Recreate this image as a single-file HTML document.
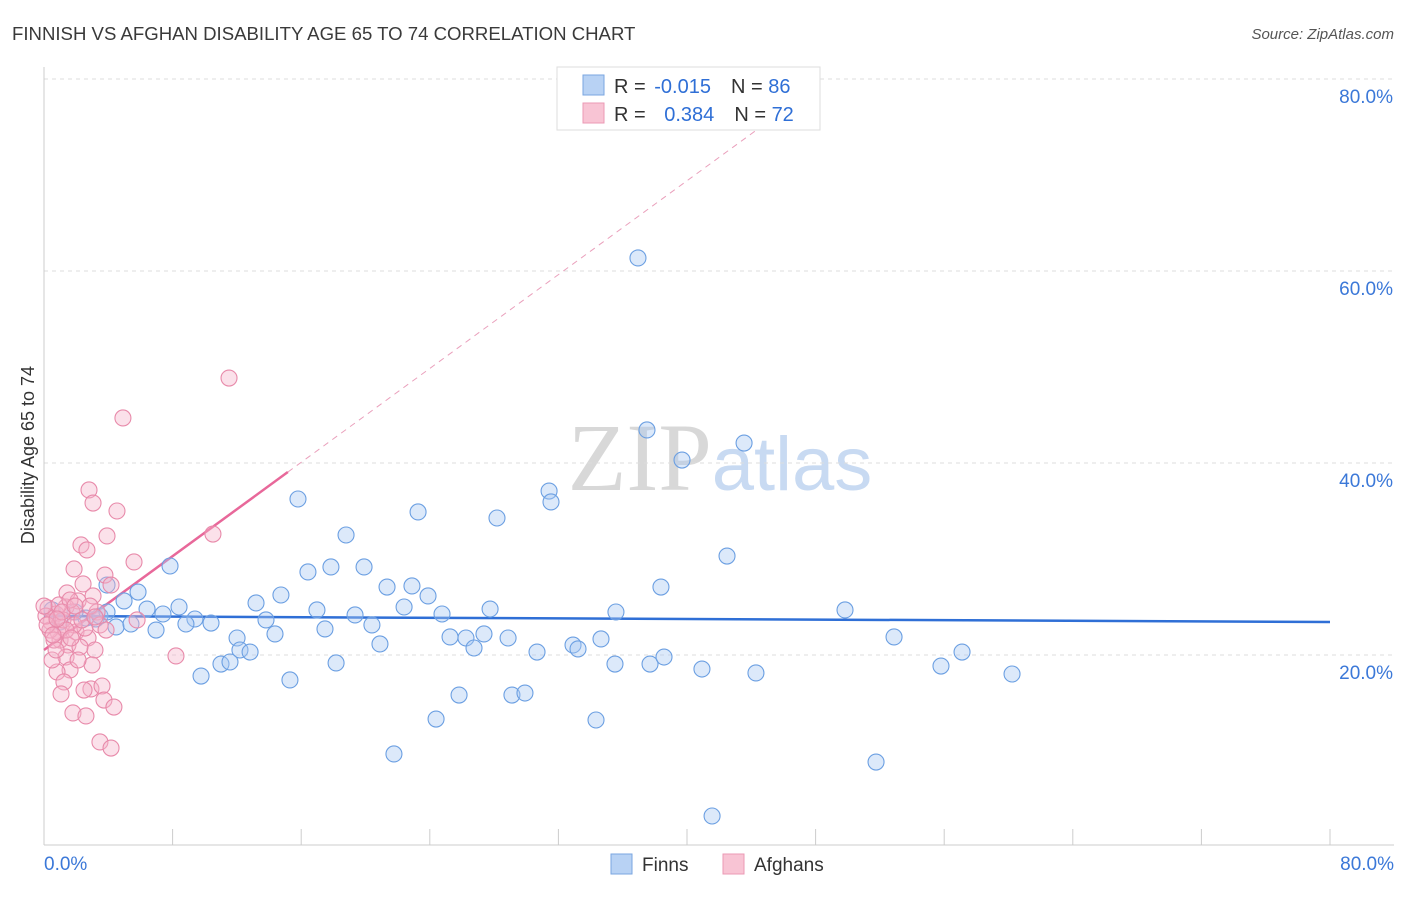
<!DOCTYPE html>
<html><head><meta charset="utf-8"><style>
body{margin:0;background:#fff;font-family:"Liberation Sans",sans-serif;}
svg text{font-family:"Liberation Sans",sans-serif;}
</style></head><body>
<svg id="chart" width="1406" height="892" xmlns="http://www.w3.org/2000/svg">
<text x="12" y="40" font-size="18.6" fill="#3a3a3a">FINNISH VS AFGHAN DISABILITY AGE 65 TO 74 CORRELATION CHART</text>
<text x="1394" y="39" font-size="15" fill="#555" text-anchor="end" font-style="italic">Source: ZipAtlas.com</text>
<text x="720" y="490" font-size="96" text-anchor="middle"><tspan fill="#d8d8d8" font-family="Liberation Serif">ZIP</tspan><tspan fill="#c8daf2" font-size="76">atlas</tspan></text>
<g id="grid"></g>
<g id="axes"></g>
<g id="trend"></g>
<g id="pts"></g>
<text transform="translate(34,455) rotate(-90)" font-size="18" fill="#333" text-anchor="middle">Disability Age 65 to 74</text>
<g>
<rect x="557" y="67" width="263" height="63" fill="#fff" stroke="#ddd"/>
<rect x="583" y="75" width="21" height="20" fill="#b8d2f4" stroke="#7aa6e0"/>
<rect x="583" y="103" width="21" height="20" fill="#f8c4d4" stroke="#eb9ab4"/>
<text x="614" y="93" font-size="20" fill="#333">R = <tspan fill="#2f6fd6" dx="3">-0.015</tspan><tspan dx="20">N = </tspan><tspan fill="#2f6fd6">86</tspan></text>
<text x="614" y="121" font-size="20" fill="#333">R = <tspan fill="#2f6fd6" dx="13">0.384</tspan><tspan dx="20">N = </tspan><tspan fill="#2f6fd6">72</tspan></text>
</g>
<g>
<rect x="611" y="854" width="21" height="20" fill="#b8d2f4" stroke="#7aa6e0"/>
<text x="642" y="871" font-size="19" fill="#333">Finns</text>
<rect x="723" y="854" width="21" height="20" fill="#f8c4d4" stroke="#eb9ab4"/>
<text x="754" y="871" font-size="19" fill="#333">Afghans</text>
</g>
</svg>
<script>
const yTicks=[20,40,60,80];
const yTickLabels=["20.0%","40.0%","60.0%","80.0%"];
const xTickLabels=["0.0%","80.0%"];
const finnsX=[36.95,37.51,43.55,39.69,31.42,31.54,15.80,23.27,28.18,18.79,42.49,7.84,16.42,17.85,19.91,3.92,5.85,21.34,22.89,23.89,38.38,4.98,13.19,14.74,6.41,8.40,16.98,22.40,27.75,35.58,49.83,7.40,9.39,8.83,10.39,13.81,19.35,24.76,3.23,4.48,5.41,6.97,20.40,17.48,12.01,14.37,25.26,26.25,27.37,28.87,32.91,34.65,52.88,12.19,12.82,20.90,26.75,30.67,33.22,11.01,11.57,18.17,35.52,37.70,38.57,57.11,55.80,9.77,15.30,40.93,44.29,60.22,25.82,29.11,29.92,24.39,34.34,21.77,51.76,41.56,2.61,3.48,1.00,1.93,0.50,3.92];
const finnsY=[61.36,43.44,42.08,40.31,37.08,35.94,36.25,34.90,34.27,32.50,30.31,29.27,28.65,29.17,29.17,27.29,26.56,27.08,27.19,26.15,27.08,25.63,25.42,26.25,24.79,25.00,24.69,25.00,24.79,24.48,24.69,24.27,23.75,23.23,23.33,23.65,24.17,24.27,23.75,22.92,23.23,22.60,23.13,22.71,21.77,22.19,21.88,21.77,22.19,21.77,21.04,21.67,21.88,20.52,20.31,21.15,20.73,20.31,20.63,19.06,19.27,19.17,19.06,19.06,19.79,20.31,18.85,17.81,17.40,18.54,18.13,18.02,15.83,15.83,16.04,13.33,13.23,9.69,8.85,3.23,23.85,24.06,23.44,24.48,24.69,24.48];
const afghansX=[11.51,4.91,2.80,3.05,4.54,10.51,2.30,3.92,2.67,5.60,1.87,3.79,2.43,4.17,1.43,3.05,2.12,1.37,3.30,0.25,0.75,1.74,0.44,1.06,1.99,2.74,1.00,1.49,3.17,1.37,8.21,2.99,1.62,0.81,1.24,2.92,3.61,1.06,3.73,1.80,2.61,4.35,3.48,4.17,2.24,0.87,2.55,0.37,0.62,1.18,5.79,1.87,2.36,0.12,0.93,1.62,2.86,0.50,2.12,3.48,1.37,0.75,2.49,0.19,1.12,1.68,3.17,3.86,1.93,0.81,0,0.56];
const afghansY=[48.85,44.69,37.19,35.83,35.00,32.60,31.46,32.40,30.94,29.69,28.96,28.33,27.40,27.29,26.46,26.15,25.63,25.00,24.48,24.90,24.27,24.48,23.44,22.92,22.40,21.77,21.56,21.04,20.52,19.79,19.90,18.96,18.44,18.23,17.19,16.46,16.77,15.94,15.31,13.96,13.65,14.58,10.94,10.31,20.83,22.40,22.81,22.60,21.56,23.65,23.65,23.13,23.65,24.06,25.21,25.73,25.10,19.48,19.48,23.13,22.60,20.52,16.35,23.13,24.48,21.77,23.96,22.60,25.10,23.75,25.10,22.08];
const finnsTrend=[24.06,23.44];
const afghansTrendIntercept=20.52, afghansTrendSlope=1.222;
const NS="http://www.w3.org/2000/svg";
const X=v=>44+v/80*1286, Y=v=>847-v/80*768;
function mk(tag,attrs,parent){const e=document.createElementNS(NS,tag);for(const k in attrs)e.setAttribute(k,attrs[k]);parent.appendChild(e);return e;}
const grid=document.getElementById('grid'),axes=document.getElementById('axes'),trend=document.getElementById('trend'),pts=document.getElementById('pts');
yTicks.forEach((t,i)=>{
 const l=mk('line',{x1:44,x2:1394,y1:Y(t),y2:Y(t),stroke:'#ddd','stroke-dasharray':'4,4'},grid);
 
 
 const tx=mk('text',{x:1393,y:Y(t)+24,'font-size':19,fill:'#3b78d8','text-anchor':'end'},axes);
 tx.textContent=yTickLabels[i];
 
 
});
const ax=mk('line',{x1:44,x2:1394,y1:845,y2:845,stroke:'#ccc'},axes);


const ay=mk('line',{x1:44,x2:44,y1:67,y2:845,stroke:'#ccc'},axes);


for(let i=0;i<=10;i++){const t=mk('line',{x1:X(i*8),x2:X(i*8),y1:829,y2:845,stroke:'#ccc'},axes);
 
 }
[[0,'start',44],[80,'end',1394]].forEach((d,i)=>{const t=mk('text',{x:d[2],y:870,'font-size':19,fill:'#3b78d8','text-anchor':d[1]},axes);t.textContent=xTickLabels[i];
 
 });
function dots(xs,ys,fill,stroke,name){xs.forEach((x,i)=>{const c=mk('circle',{cx:X(x),cy:Y(ys[i]),r:8,fill:fill,'fill-opacity':0.4,stroke:stroke,'stroke-width':1.1},pts);
 
 });}
dots(finnsX,finnsY,'#a8c8f2','#6b9fe2','finns-point');
dots(afghansX,afghansY,'#f6b4ca','#e88aaa','afghans-point');
const ft=mk('line',{x1:X(0),y1:Y(finnsTrend[0]),x2:X(80),y2:Y(finnsTrend[1]),stroke:'#2f6fd6','stroke-width':2.5},trend);


const a=x=>afghansTrendIntercept+afghansTrendSlope*x;
const at=mk('line',{x1:X(0),y1:Y(a(0)),x2:X(15.17),y2:Y(a(15.17)),stroke:'#e8689a','stroke-width':2.5},trend);


const ad=mk('line',{x1:X(15.17),y1:Y(a(15.17)),x2:X(48),y2:Y(a(48)),stroke:'#eaa0bc','stroke-width':1,'stroke-dasharray':'6,5'},trend);


</script>
</body></html>
